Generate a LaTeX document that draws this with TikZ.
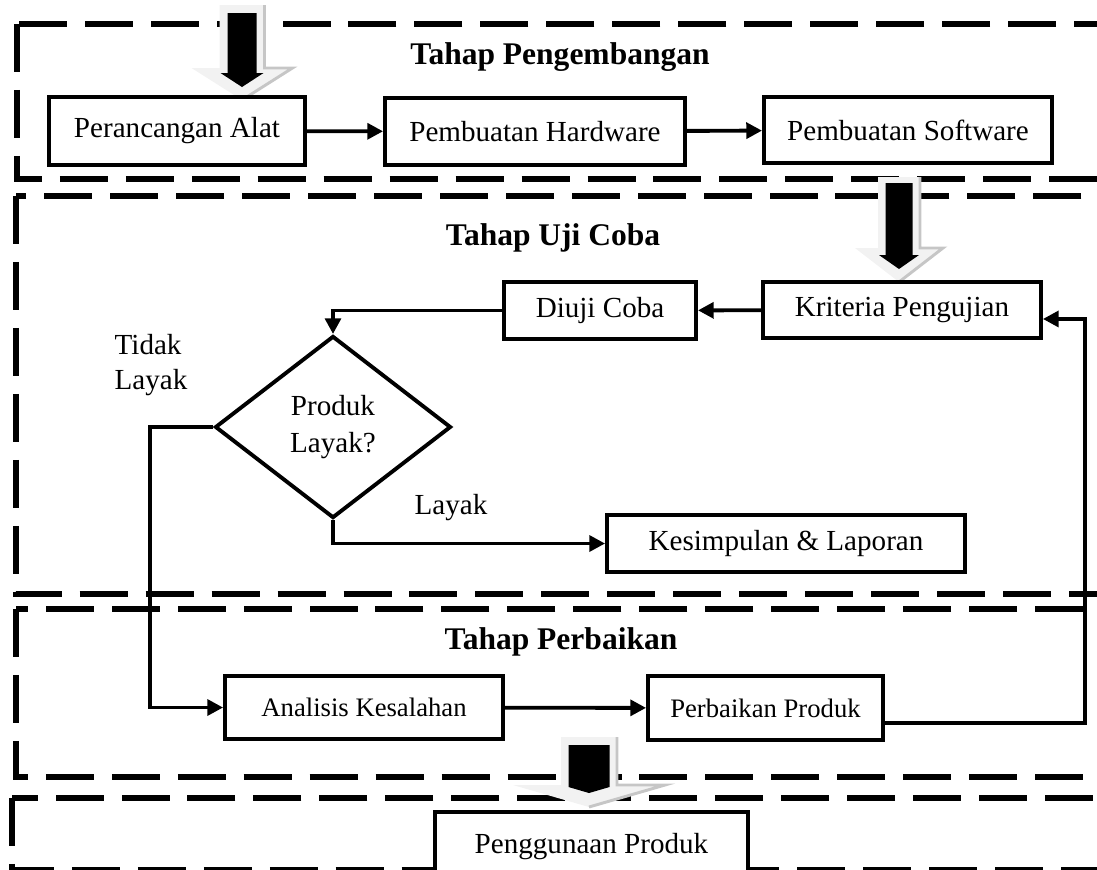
\documentclass[tikz,border=0pt]{standalone}
\usepackage{fontspec}
\setmainfont{Liberation Serif}
\usetikzlibrary{arrows.meta,shapes.geometric}

% outline of a fat down arrow: centre x, top, head start, tip, half shaft, half head
\newcommand{\blockpath}[6]{({#1-#5},{-#2}) -- ({#1+#5},{-#2}) -- ({#1+#5},{-#3}) -- ({#1+#6},{-#3}) -- (#1,{-#4}) -- ({#1-#6},{-#3}) -- ({#1-#5},{-#3}) -- cycle}
% its shaded right edge
\newcommand{\blockedge}[6]{({#1+#5},{-#2}) -- ({#1+#5},{-#3}) -- ({#1+#6},{-#3}) -- (#1,{-#4})}

\tikzset{
  box/.style={draw,fill=white,line width=1.6pt,inner sep=2pt,font=\fontsize{12}{14.5}\selectfont},
  smallbox/.style={box,font=\fontsize{11}{13}\selectfont},
  decision/.style={diamond,draw,fill=white,line width=1.6pt,aspect=1.3,inner sep=0pt,align=center,
    minimum width=97.3pt,minimum height=75.1pt,font=\fontsize{12}{15.5}\selectfont},
  flow/.style={line width=1.6pt,-{Triangle[length=6.5pt,width=6.5pt]}},
  phase/.style={line width=2.2pt,dash pattern=on 19.8pt off 7.4pt},
  title/.style={font=\fontsize{13}{15}\selectfont\bfseries},
  shadearrow/.style={fill=gray!10},
  shadeedge/.style={draw=gray!45,line width=1.2pt},
  corearrow/.style={fill=black},
  plain/.style={font=\fontsize{12}{14.5}\selectfont}
}

\begin{document}
\begin{tikzpicture}[x=0.4124pt,y=0.4124pt]

\useasboundingbox (0,0) rectangle (1097,-869);
\clip (0,0) rectangle (1097,-869);

% The phase frames
\draw[phase] (17,-24) rectangle (1140,-179);
\draw[phase] (16,-196) rectangle (1140,-594);
\draw[phase] (16,-609) rectangle (1140,-777);
\draw[phase] (12,-798) rectangle (1140,-870);

% The fat arrows between phases
\fill[shadearrow] \blockpath{242}{5}{68}{100}{22.5}{50.5};
\draw[shadeedge] \blockedge{242}{5}{68}{100}{22.5}{50.5};
\fill[corearrow] \blockpath{242}{13}{73}{87}{14.5}{21.5};
\fill[shadearrow] \blockpath{899}{177}{248}{282}{21}{44};
\draw[shadeedge] \blockedge{899}{177}{248}{282}{21}{44};
\fill[corearrow] \blockpath{899}{183}{255}{269}{13.5}{20};
\fill[shadearrow] \blockpath{589}{737}{785}{807}{28}{76};
\draw[shadeedge] \blockedge{589}{737}{785}{807}{28}{76};
\fill[corearrow] \blockpath{589}{745}{787}{793}{20.5}{20.5};

% Titles
\node[title] (tpengembangan) at (560,-57) {Tahap Pengembangan};
\node[title] (tujicoba) at (553,-238) {Tahap Uji Coba};
\node[title] (tperbaikan) at (561,-642) {Tahap Perbaikan};

% The steps
\node[box,minimum width=105.6pt,minimum height=28pt] (perancangan) at (177,-131) {Perancangan Alat};
\node[box,minimum width=123.7pt,minimum height=27.6pt] (hardware) at (535,-131.5) {Pembuatan Hardware};
\node[box,minimum width=118.8pt,minimum height=27.2pt] (software) at (908,-130) {Pembuatan Software};

\node[box,minimum width=114.6pt,minimum height=23.1pt] (kriteria) at (902,-310) {Kriteria Pengujian};
\node[box,minimum width=79.2pt,minimum height=23.5pt] (diuji) at (600,-310.5) {Diuji Coba};
\node[decision] (layak) at (333,-427) {Produk\\Layak?};
\node[box,minimum width=147.6pt,minimum height=23.5pt] (kesimpulan) at (786,-543.5) {Kesimpulan \& Laporan};

\node[smallbox,minimum width=114.6pt,minimum height=26pt] (analisis) at (364,-707.5) {Analisis Kesalahan};
\node[smallbox,minimum width=96.9pt,minimum height=26.4pt] (perbaikan) at (765.5,-708) {Perbaikan Produk};

\node[box,minimum width=129.1pt,minimum height=28.9pt] (penggunaan) at (591.5,-847) {Penggunaan Produk};

% The labels of the decision
\node[plain,align=left] (tidak) at (151,-365) {Tidak\\Layak};
\node[plain] (ya) at (451,-508) {Layak};

% The connectors
\draw[flow] (perancangan) -- (hardware);
\draw[flow] (hardware) -- (software);
\draw[flow] (kriteria) -- (diuji);
\draw[flow] (diuji.west) -| (layak.north);
\draw[flow] (layak.west) -- ++(-63,0) |- (analisis.west);
\draw[flow] (layak.south) |- (kesimpulan.west);
\draw[flow] (analisis) -- (perbaikan);
\draw[flow] ([yshift=-6pt]perbaikan.east) -- ++(200,0) |- ([yshift=-3.7pt]kriteria.east);

\end{tikzpicture}
\end{document}
